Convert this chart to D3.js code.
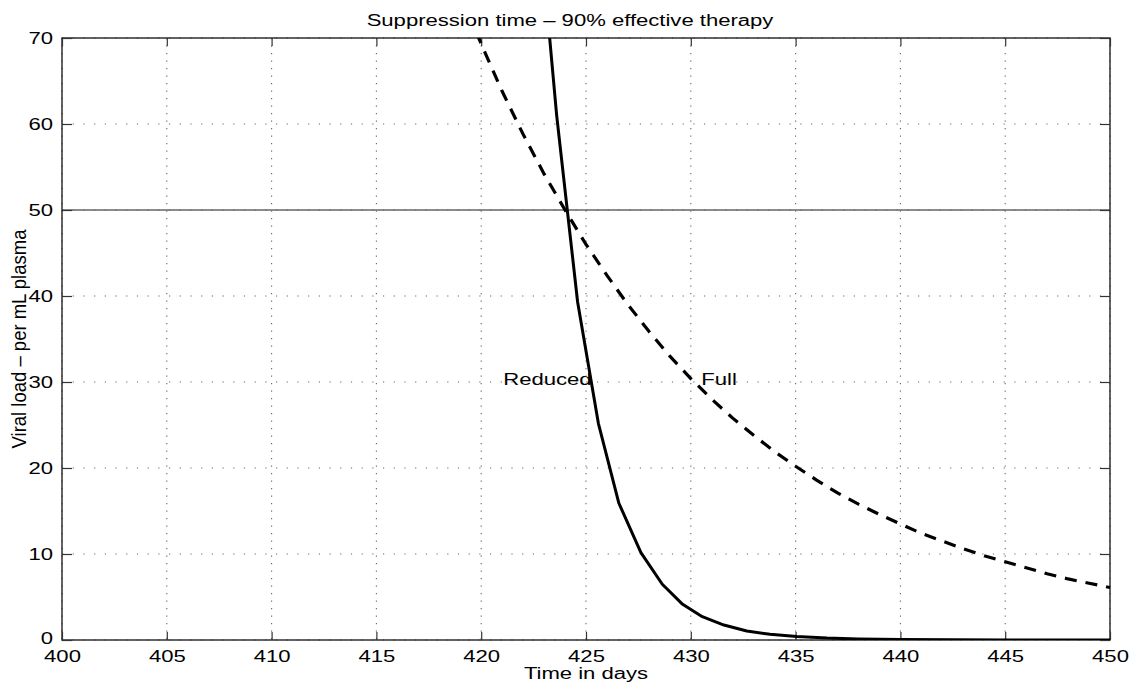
<!DOCTYPE html>
<html>
<head>
<meta charset="utf-8">
<script src="https://cdn.jsdelivr.net/npm/d3@7"></script>
<style>
  body { margin: 0; background: #fff; }
  svg { display: block; }
  text { font-family: "Liberation Sans", Arial, sans-serif; fill: #000; }
</style>
</head>
<body>
<div class="chart"></div>
<script>
// data
var fullDays = [419, 420, 421, 422, 423, 424, 425, 426, 427, 428, 429, 430, 431, 432, 433, 434, 435,
  436, 437, 438, 439, 440, 441, 442, 443, 444, 445, 446, 447, 448, 449, 450];
var fullLoad = [75.2, 69.3, 63.8, 58.8, 54.2, 50.0, 46.0, 42.4, 39.0, 35.9, 33.0, 30.4, 28.0, 25.8, 23.8, 21.9, 20.2,
  18.6, 17.1, 15.8, 14.6, 13.5, 12.4, 11.5, 10.6, 9.8, 9.1, 8.4, 7.7, 7.1, 6.6, 6.1];

var reducedDays = [422.6, 423.6, 424.6, 425.59, 426.57, 427.62, 428.64, 429.61, 430.55, 431.58, 432.67,
  433.78, 435.05, 436.5, 438, 440, 442.5, 445, 447.5, 450];
var reducedLoad = [88, 61, 39.3, 25.2, 15.9, 10.15, 6.48, 4.15, 2.71, 1.74, 1.05,
  0.66, 0.4, 0.22, 0.12, 0.06, 0.025, 0.01, 0.005, 0.002];

var xTicks = [400, 405, 410, 415, 420, 425, 430, 435, 440, 445, 450];
var yTicks = [0, 10, 20, 30, 40, 50, 60, 70];
var threshold = 50;

var labels = [
  {text: "Reduced", day: 421.05, load: 30},
  {text: "Full", day: 430.5, load: 30}
];

var titleText = "Suppression time \u2013 90% effective therapy";
var xLabel = "Time in days";
var yLabel = "Viral load \u2013 per mL plasma";

var W = 1140, H = 686;
var margin = {top: 38, right: 30, bottom: 46, left: 62};
var width = 1110 - margin.left;
var height = 640 - margin.top;
var sx = 1.38; // picture is stretched sideways

var x = d3.scaleLinear().domain([400, 450]).range([0, width]);
var y = d3.scaleLinear().domain([0, 70]).range([height, 0]);

var svg = d3.select(".chart").append("svg")
  .attr("width", W)
  .attr("height", H);

svg.append("defs").append("clipPath").attr("id", "clip")
  .append("rect").attr("width", width).attr("height", height);

var g = svg.append("g")
  .attr("transform", "translate(" + margin.left + "," + margin.top + ")");

// grid
g.append("g").selectAll("line").data(xTicks).enter().append("line")
  .attr("x1", function (d) { return x(d); })
  .attr("x2", function (d) { return x(d); })
  .attr("y1", 0).attr("y2", height)
  .attr("stroke", "#666").attr("stroke-width", 1.1)
  .attr("stroke-dasharray", "1.2,6.3");

g.append("g").selectAll("line").data(yTicks).enter().append("line")
  .attr("y1", function (d) { return y(d); })
  .attr("y2", function (d) { return y(d); })
  .attr("x1", 0).attr("x2", width)
  .attr("stroke", "#666").attr("stroke-width", 1.1)
  .attr("stroke-dasharray", "1.2,9.5");

// threshold line
g.append("line")
  .attr("x1", 0).attr("x2", width)
  .attr("y1", y(threshold)).attr("y2", y(threshold))
  .attr("stroke", "#666").attr("stroke-width", 1.6);

// frame
g.append("rect")
  .attr("width", width).attr("height", height)
  .attr("fill", "none").attr("stroke", "#222").attr("stroke-width", 1.4);

// axes, ticks pointing inward
var xAxis = g.append("g")
  .attr("transform", "translate(0," + height + ")")
  .call(d3.axisBottom(x).tickValues(xTicks).tickSize(-8).tickPadding(0).tickSizeOuter(0));
var xTop = g.append("g")
  .call(d3.axisTop(x).tickValues(xTicks).tickSize(-8).tickFormat("").tickSizeOuter(0));
var yAxis = g.append("g")
  .call(d3.axisLeft(y).tickValues(yTicks).tickSize(-10).tickPadding(0).tickSizeOuter(0));
var yRight = g.append("g")
  .attr("transform", "translate(" + width + ",0)")
  .call(d3.axisRight(y).tickValues(yTicks).tickSize(-10).tickFormat("").tickSizeOuter(0));

[xAxis, xTop, yAxis, yRight].forEach(function (a) {
  a.select(".domain").remove();
  a.selectAll(".tick line").attr("stroke", "#333").attr("stroke-width", 1.2);
});

xAxis.selectAll(".tick text")
  .attr("y", 22).attr("dy", null)
  .attr("font-size", 16).attr("font-family", "Liberation Sans, Arial, sans-serif")
  .attr("transform", "scale(" + sx + ",1)");

yAxis.selectAll(".tick text")
  .attr("x", -9 / sx).attr("dy", function (d) { return d === 0 ? "0.2em" : "0.36em"; })
  .attr("font-size", 16).attr("font-family", "Liberation Sans, Arial, sans-serif")
  .attr("transform", "scale(" + sx + ",1)");

// curves
var fullData = fullDays.map(function (d, i) { return [d, fullLoad[i]]; });
var reducedData = reducedDays.map(function (d, i) { return [d, reducedLoad[i]]; });

var line = d3.line()
  .x(function (d) { return x(d[0]); })
  .y(function (d) { return y(d[1]); });

var curves = g.append("g").attr("clip-path", "url(#clip)");

curves.append("path")
  .attr("d", line(fullData))
  .attr("fill", "none").attr("stroke", "#000").attr("stroke-width", 3.2)
  .attr("stroke-dasharray", "12,9");

curves.append("path")
  .attr("d", line(reducedData))
  .attr("fill", "none").attr("stroke", "#000").attr("stroke-width", 3)
  .attr("stroke-linejoin", "round");

// curve labels
g.selectAll(".lbl").data(labels).enter().append("text")
  .attr("class", "lbl")
  .attr("transform", function (d) {
    return "translate(" + x(d.day) + "," + (y(d.load) + 3) + ") scale(" + sx + ",1)";
  })
  .attr("font-size", 16)
  .text(function (d) { return d.text; });

// titles
svg.append("text")
  .attr("transform", "translate(" + (margin.left + width / 2 - 16) + ",26) scale(" + sx + ",1)")
  .attr("text-anchor", "middle").attr("font-size", 16)
  .text(titleText);

svg.append("text")
  .attr("transform", "translate(" + (margin.left + width / 2) + ",679) scale(" + sx + ",1)")
  .attr("text-anchor", "middle").attr("font-size", 16)
  .text(xLabel);

svg.append("text")
  .attr("transform", "translate(26," + (margin.top + height / 2) + ") scale(1.05,1) rotate(-90)")
  .attr("text-anchor", "middle").attr("font-size", 18.5)
  .text(yLabel);
</script>
</body>
</html>
